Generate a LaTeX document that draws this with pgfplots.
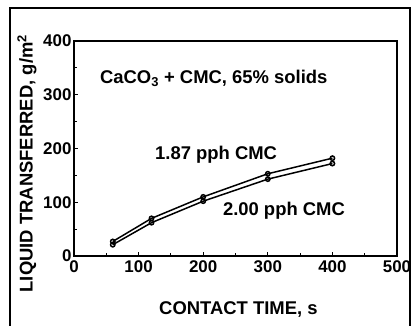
\documentclass[border=0pt]{standalone}
\usepackage{pgfplots}
\pgfplotsset{compat=1.18}
\usepackage{fontspec}
\setmainfont{Liberation Sans}
\begin{document}
\begin{tikzpicture}[x=1bp,y=1bp]
\begin{axis}[
  at={(0,0)}, anchor=south west,
  scale only axis, width=323bp, height=215bp,
  xmin=0, xmax=500, ymin=0, ymax=400,
  xtick={0,100,...,500}, ytick={0,100,...,400},
  minor xtick={50,150,...,450}, minor ytick={50,150,...,350},
  tick align=inside, xtick pos=bottom, ytick pos=left,
  major tick length=4pt, minor tick length=3pt,
  every tick/.style={black, line width=0.9pt},
  axis line style={line width=1.4pt},
  /pgf/number format/assume math mode=true,
  tick label style={font=\bfseries\fontsize{17}{17}\selectfont},
  xticklabel style={yshift=-1pt},
  yticklabel style={xshift=1pt},
  xlabel={CONTACT TIME, s},
  ylabel={LIQUID TRANSFERRED, g/m$^{\mathbf 2}$},
  label style={font=\bfseries\fontsize{18.5}{19}\selectfont},
  xlabel style={at={(axis description cs:0.509,-0.251)}, anchor=center},
  ylabel style={at={(axis description cs:-0.1455,0.43)}, anchor=center},
  clip=false,
]
\addplot[black, line width=1.5pt, mark=o, mark size=2.2pt] coordinates {
 (60,27) (120,70) (200,110) (300,153) (400,182)};
\addplot[black, line width=1.5pt, mark=o, mark size=2.2pt] coordinates {
 (60,21) (120,62) (200,102) (300,143) (400,172)};
\node[anchor=west, font=\bfseries\fontsize{18.5}{19}\selectfont] at (axis cs:35,331) {CaCO$_{\mathbf 3}$ + CMC, 65\% solids};
\node[font=\bfseries\fontsize{18.5}{19}\selectfont] at (axis cs:220,188) {1.87 pph CMC};
\node[font=\bfseries\fontsize{18.5}{19}\selectfont] at (axis cs:325,84) {2.00 pph CMC};
\end{axis}
\pgfresetboundingbox
\useasboundingbox (-74,-70) rectangle (338,256);
\draw[line width=1.3pt] (-64,-72) -- (-64,248) -- (336,248) -- (336,-72);
\end{tikzpicture}
\end{document}
